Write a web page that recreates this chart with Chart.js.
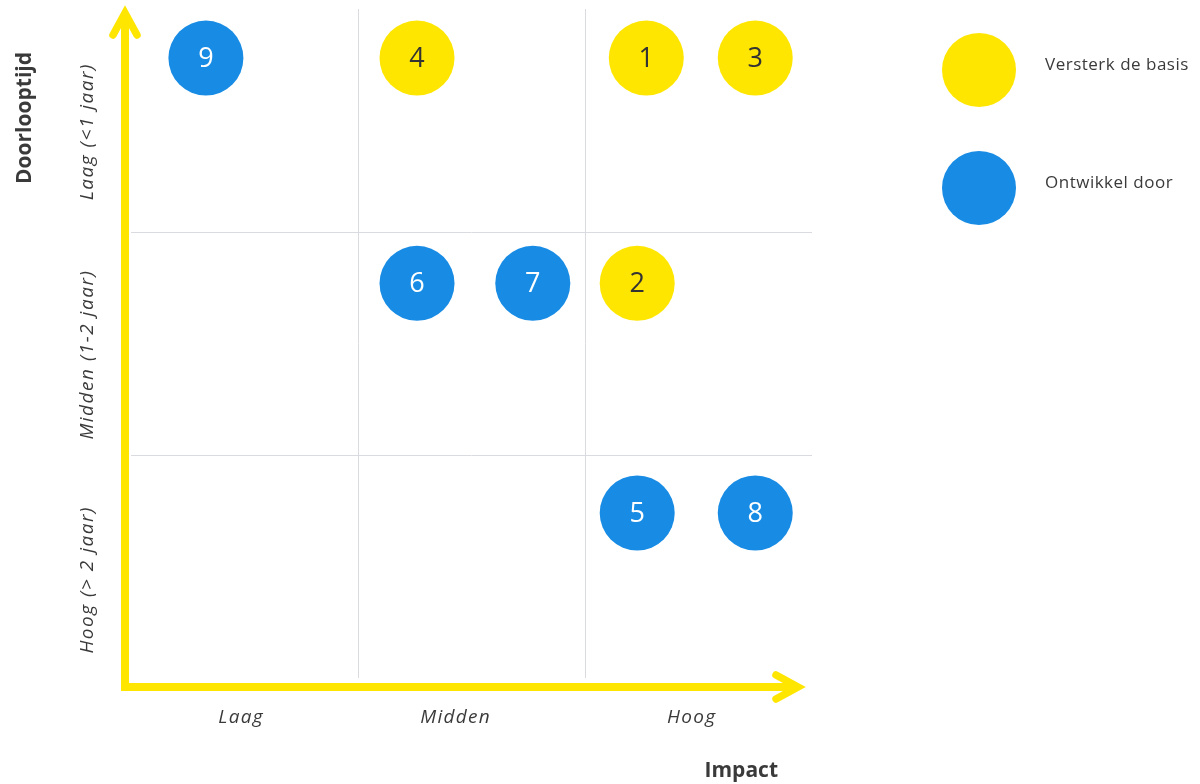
<!DOCTYPE html>
<html>
<head>
<meta charset="utf-8">
<script src="https://cdn.jsdelivr.net/npm/chart.js@4/dist/chart.umd.min.js"></script>
<style>
html, body { margin: 0; padding: 0; background: #fff; }
#wrap { width: 1200px; height: 784px; }
</style>
</head>
<body>
<div id="wrap"><canvas id="myChart"></canvas></div>
<script>
var seriesNames = ["Versterk de basis", "Ontwikkel door"];
var seriesColors = ["#FFE600", "#188CE5"];
var yellowIds = [1, 2, 3, 4];
var yellowX = [2.27, 2.23, 2.75, 1.26];
var yellowY = [0.22, 1.23, 0.22, 0.22];
var blueIds = [5, 6, 7, 8, 9];
var blueX = [2.23, 1.26, 1.77, 2.75, 0.33];
var blueY = [2.26, 1.23, 1.23, 2.26, 0.22];
var xTickPos = [0.485, 1.43, 2.47];
var xTickLabels = ["Laag", "Midden", "Hoog"];
var yTickPos = [0.55, 1.55, 2.56];
var yTickLabels = ["Laag (<1 jaar)", "Midden (1-2 jaar)", "Hoog (> 2 jaar)"];
var gridPos = [1, 2];
var xTitle = "Impact";
var yTitle = "Doorlooptijd";

var FONT = "'Open Sans', 'Noto Sans', sans-serif";
var TEXT = "#3a3a3a";
var GRID = "#dadae1";
var YELLOW = "#FFE600";

function points(xs, ys) {
    return xs.map(function (x, i) { return { x: x, y: ys[i] }; });
}

// numbers in the bubbles, arrows, axis titles, y labels and legend
var decor = {
    id: "decor",
    beforeDraw: function (chart) {
        chart.ctx.letterSpacing = "1.3px"; // x tick labels
    },
    beforeDatasetsDraw: function (chart) {
        var ctx = chart.ctx;
        var a = chart.chartArea;
        var ax = a.left - 6, ay = a.bottom + 9;
        var topTip = a.top + 4, rightTip = a.right - 14;
        ctx.save();
        ctx.strokeStyle = YELLOW;
        ctx.lineWidth = 8;
        ctx.lineJoin = "miter";
        ctx.beginPath();
        ctx.moveTo(ax, topTip + 2);
        ctx.lineTo(ax, ay);
        ctx.lineTo(rightTip - 2, ay);
        ctx.stroke();
        ctx.lineWidth = 7.5;
        ctx.lineCap = "round";
        ctx.beginPath();
        ctx.moveTo(ax - 12, topTip + 22);
        ctx.lineTo(ax, topTip);
        ctx.lineTo(ax + 12, topTip + 22);
        ctx.stroke();
        ctx.beginPath();
        ctx.moveTo(rightTip - 22, ay - 12);
        ctx.lineTo(rightTip, ay);
        ctx.lineTo(rightTip - 22, ay + 12);
        ctx.stroke();
        ctx.restore();
    },
    afterDatasetsDraw: function (chart) {
        var ctx = chart.ctx;
        ctx.save();
        ctx.letterSpacing = "0px";
        ctx.font = "27px " + FONT;
        ctx.textAlign = "center";
        ctx.textBaseline = "middle";
        chart.data.datasets.forEach(function (ds, di) {
            var meta = chart.getDatasetMeta(di);
            meta.data.forEach(function (el, i) {
                ctx.fillStyle = ds.numColor;
                ctx.fillText(String(ds.ids[i]), el.x, el.y + 1);
            });
        });
        ctx.restore();
    },
    afterDraw: function (chart) {
        var ctx = chart.ctx;
        var a = chart.chartArea;
        var ys = chart.scales.y;
        ctx.save();
        ctx.fillStyle = TEXT;
        ctx.textBaseline = "middle";
        ctx.font = "italic 19px " + FONT;
        ctx.letterSpacing = "1.5px";
        ctx.textAlign = "center";
        yTickLabels.forEach(function (lab, i) {
            ctx.save();
            ctx.translate(88, ys.getPixelForValue(yTickPos[i]));
            ctx.rotate(-Math.PI / 2);
            ctx.fillText(lab, 0, 0);
            ctx.restore();
        });
        ctx.letterSpacing = "0px";
        ctx.font = "bold 21px " + FONT;
        ctx.save();
        ctx.translate(25, 118);
        ctx.rotate(-Math.PI / 2);
        ctx.fillText(yTitle, 0, 0);
        ctx.restore();
        ctx.textAlign = "right";
        ctx.fillText(xTitle, a.right - 34, 771);
        ctx.textAlign = "left";
        ctx.font = "17px " + FONT;
        ctx.letterSpacing = "0.5px";
        chart.data.datasets.forEach(function (ds, i) {
            var cy = 70 + i * 118;
            ctx.beginPath();
            ctx.arc(979, cy, 37, 0, Math.PI * 2);
            ctx.fillStyle = ds.backgroundColor;
            ctx.fill();
            ctx.fillStyle = TEXT;
            ctx.fillText(ds.label, 1045, cy - 5);
        });
        ctx.restore();
    }
};

var myChart = document.getElementById("myChart").getContext("2d");
var bubbleChart = new Chart(myChart, {
    type: "scatter",
    data: {
        datasets: [{
            label: seriesNames[0],
            ids: yellowIds,
            numColor: "#333333",
            data: points(yellowX, yellowY),
            backgroundColor: seriesColors[0],
            borderWidth: 0,
            pointRadius: 37.5,
            pointHoverRadius: 37.5
        }, {
            label: seriesNames[1],
            ids: blueIds,
            numColor: "#ffffff",
            data: points(blueX, blueY),
            backgroundColor: seriesColors[1],
            borderWidth: 0,
            pointRadius: 37.5,
            pointHoverRadius: 37.5
        }]
    },
    options: {
        responsive: true,
        maintainAspectRatio: false,
        animation: false,
        events: [],
        layout: {
            autoPadding: false,
            padding: { top: 9, right: 388, left: 0, bottom: 0 }
        },
        plugins: {
            legend: { display: false },
            tooltip: { enabled: false }
        },
        scales: {
            x: {
                type: "linear",
                min: 0,
                max: 3,
                border: { display: false },
                grid: {
                    drawTicks: false,
                    color: function (c) {
                        return c.tick && gridPos.indexOf(c.tick.value) >= 0 ? GRID : "rgba(0,0,0,0)";
                    }
                },
                afterBuildTicks: function (scale) {
                    var t = [];
                    xTickPos.forEach(function (v) { t.push({ value: v }); });
                    gridPos.forEach(function (v) { t.push({ value: v }); });
                    scale.ticks = t;
                },
                afterFit: function (scale) {
                    scale.height = 106;
                    scale.paddingLeft = 0;
                    scale.paddingRight = 0;
                },
                ticks: {
                    autoSkip: false,
                    maxRotation: 0,
                    padding: 28,
                    color: TEXT,
                    font: { family: FONT, size: 19, style: "italic" },
                    callback: function (value) {
                        var i = xTickPos.indexOf(value);
                        return i >= 0 ? xTickLabels[i] : "";
                    }
                }
            },
            y: {
                type: "linear",
                min: 0,
                max: 3,
                reverse: true,
                border: { display: false },
                grid: { drawTicks: false, color: GRID },
                afterBuildTicks: function (scale) {
                    scale.ticks = gridPos.map(function (v) { return { value: v }; });
                },
                afterFit: function (scale) {
                    scale.width = 131;
                    scale.paddingTop = 0;
                    scale.paddingBottom = 0;
                },
                ticks: { display: false }
            }
        }
    },
    plugins: [decor]
});
</script>
</body>
</html>
